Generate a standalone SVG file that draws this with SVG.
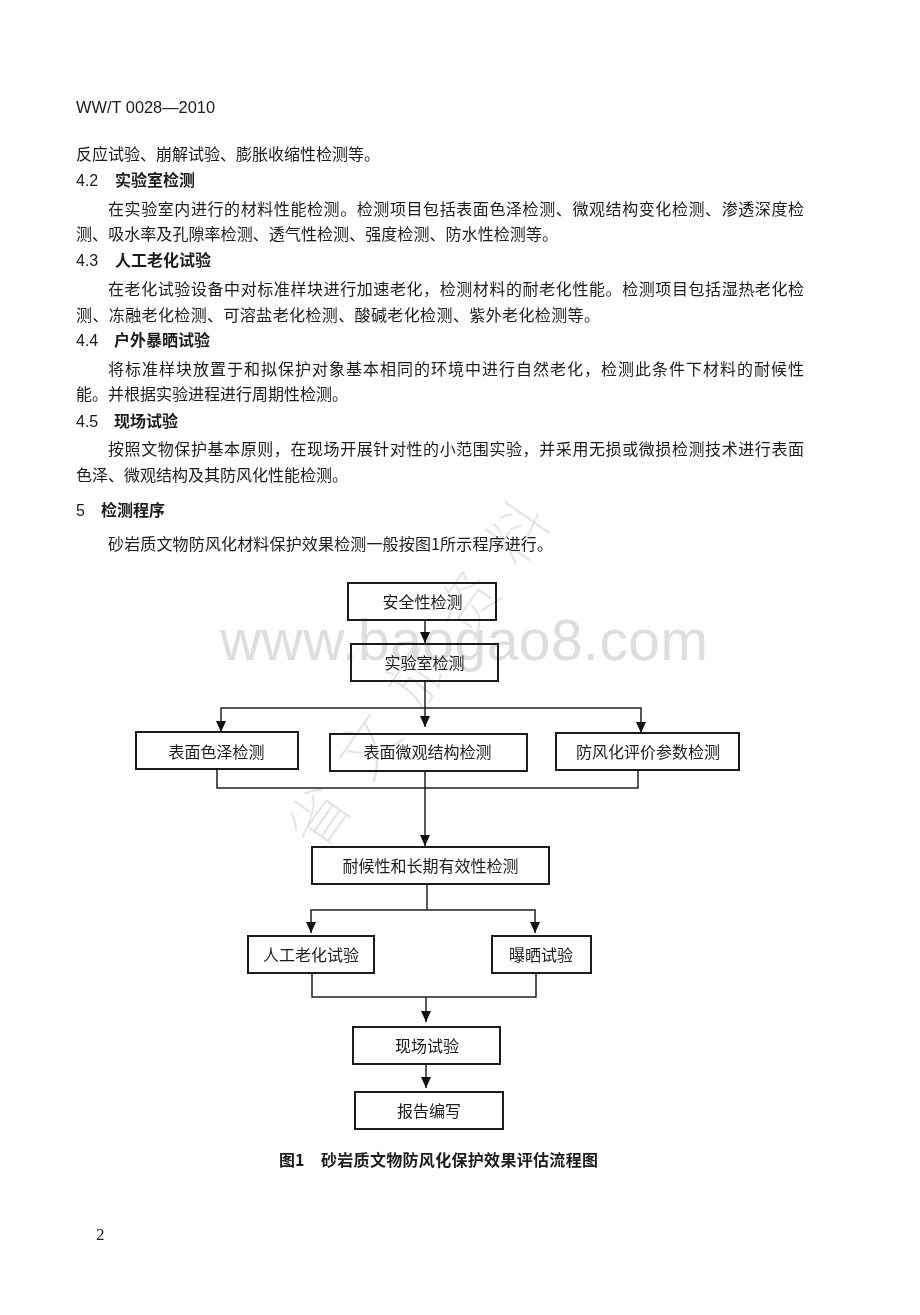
<svg xmlns="http://www.w3.org/2000/svg" width="920" height="1315" viewBox="0 0 920 1315">
<style>
text{font-family:"Noto Sans CJK SC","Liberation Sans",sans-serif;fill:#1a1a1a}
.b{font-size:16px;font-weight:400}
.h{font-size:16px;font-weight:700}
.l{font-family:"Liberation Sans",sans-serif;font-weight:400}
.n{font-size:16px;text-anchor:middle;font-weight:400}
.box{fill:none;stroke:#1a1a1a;stroke-width:2}
.c{fill:none;stroke:#222;stroke-width:1.5}
.wm{fill:#dedede;font-family:"Liberation Sans",sans-serif;font-size:57px}
.wc{font-size:60px;fill:#e0e0e0;font-weight:100}
.g{opacity:.99}
</style>
<defs><marker id="a" markerWidth="12" markerHeight="11" refX="11" refY="5" orient="auto" markerUnits="userSpaceOnUse"><path d="M0 0L11 5L0 10Z" fill="#111"/></marker></defs>
<rect width="920" height="1315" fill="#fff"/>
<g id="watermark" class="g">
<text class="wm" x="220" y="660" textLength="488">www.baogao8.com</text>
<text class="wc" transform="translate(319 854) rotate(-55)" textLength="407">省文旅资料</text>
</g>
<g id="page-text" class="g">
<text class="l" x="76" y="113" style="font-size:16.4px">WW/T 0028—2010</text>
<text class="b" x="76" y="160" textLength="304">反应试验、崩解试验、膨胀收缩性检测等。</text>
<text class="h" y="186"><tspan class="l" x="76">4.2</tspan><tspan x="115">实验室检测</tspan></text>
<text class="b" x="108" y="215" textLength="696">在实验室内进行的材料性能检测。检测项目包括表面色泽检测、微观结构变化检测、渗透深度检</text>
<text class="b" x="76" y="240" textLength="482">测、吸水率及孔隙率检测、透气性检测、强度检测、防水性检测等。</text>
<text class="h" y="266"><tspan class="l" x="76">4.3</tspan><tspan x="115">人工老化试验</tspan></text>
<text class="b" x="108" y="295" textLength="696">在老化试验设备中对标准样块进行加速老化，检测材料的耐老化性能。检测项目包括湿热老化检</text>
<text class="b" x="76" y="321" textLength="524">测、冻融老化检测、可溶盐老化检测、酸碱老化检测、紫外老化检测等。</text>
<text class="h" y="346"><tspan class="l" x="76">4.4</tspan><tspan x="114">户外暴晒试验</tspan></text>
<text class="b" x="108" y="375" textLength="696">将标准样块放置于和拟保护对象基本相同的环境中进行自然老化，检测此条件下材料的耐候性</text>
<text class="b" x="76" y="400" textLength="272">能。并根据实验进程进行周期性检测。</text>
<text class="h" y="427"><tspan class="l" x="76">4.5</tspan><tspan x="114">现场试验</tspan></text>
<text class="b" x="108" y="455" textLength="696">按照文物保护基本原则，在现场开展针对性的小范围实验，并采用无损或微损检测技术进行表面</text>
<text class="b" x="76" y="481" textLength="272">色泽、微观结构及其防风化性能检测。</text>
<text class="h" y="516"><tspan class="l" x="76">5</tspan><tspan x="101">检测程序</tspan></text>
<text class="b" x="108" y="550" textLength="445">砂岩质文物防风化材料保护效果检测一般按图1所示程序进行。</text>
<text y="1166" style="font-size:16px;font-weight:700"><tspan x="279">图1</tspan><tspan x="321" textLength="277">砂岩质文物防风化保护效果评估流程图</tspan></text>
<text x="96" y="1240" style="font-family:'Liberation Serif',serif;font-size:17px">2</text>
</g>
<g id="connectors">
<path class="c" d="M425 620V643" marker-end="url(#a)"/>
<path class="c" d="M425 681V727" marker-end="url(#a)"/>
<path class="c" d="M425 708H221V732" marker-end="url(#a)"/>
<path class="c" d="M425 708H641V733" marker-end="url(#a)"/>
<path class="c" d="M217 769V788H638V770"/>
<path class="c" d="M425 771V846" marker-end="url(#a)"/>
<path class="c" d="M427 884V910"/>
<path class="c" d="M427 910H311V933" marker-end="url(#a)"/>
<path class="c" d="M427 910H535V933" marker-end="url(#a)"/>
<path class="c" d="M312 973V997H536V973"/>
<path class="c" d="M426 997V1022" marker-end="url(#a)"/>
<path class="c" d="M426 1064V1088" marker-end="url(#a)"/>
</g>
<g id="n1" class="g"><rect class="box" x="348" y="583" width="148" height="37"/><text class="n" x="422.5" y="608">安全性检测</text></g>
<g id="n2" class="g"><rect class="box" x="351" y="644" width="147" height="37"/><text class="n" x="424.5" y="669">实验室检测</text></g>
<g id="n3" class="g"><rect class="box" x="136" y="732" width="162" height="37"/><text class="n" x="216.5" y="758">表面色泽检测</text></g>
<g id="n4" class="g"><rect class="box" x="330" y="734" width="197" height="37"/><text class="n" x="427.5" y="758">表面微观结构检测</text></g>
<g id="n5" class="g"><rect class="box" x="556" y="733" width="183" height="37"/><text class="n" x="648" y="758">防风化评价参数检测</text></g>
<g id="n6" class="g"><rect class="box" x="312" y="847" width="237" height="37"/><text class="n" x="430.5" y="872">耐候性和长期有效性检测</text></g>
<g id="n7" class="g"><rect class="box" x="248" y="936" width="126" height="37"/><text class="n" x="311" y="961">人工老化试验</text></g>
<g id="n8" class="g"><rect class="box" x="492" y="936" width="99" height="37"/><text class="n" x="541" y="961">曝晒试验</text></g>
<g id="n9" class="g"><rect class="box" x="353" y="1027" width="147" height="37"/><text class="n" x="427" y="1052">现场试验</text></g>
<g id="n10" class="g"><rect class="box" x="355" y="1092" width="148" height="37"/><text class="n" x="429" y="1117">报告编写</text></g>
</svg>
